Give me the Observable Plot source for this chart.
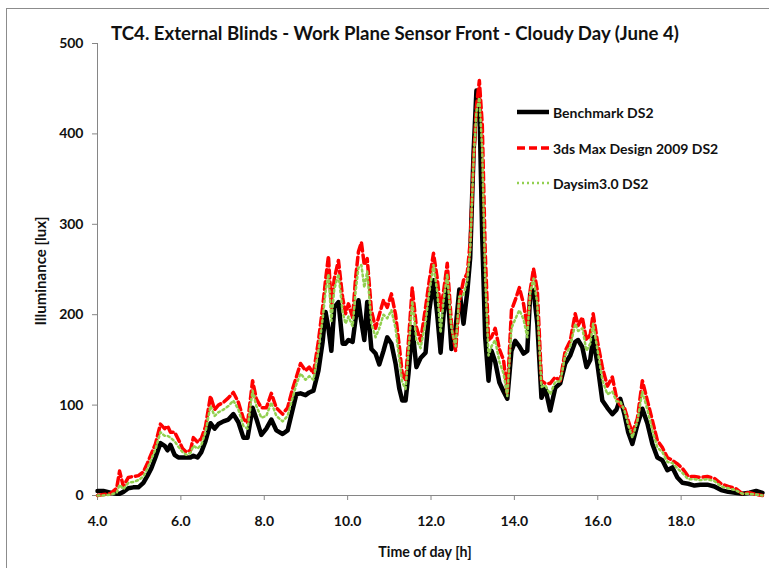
<!DOCTYPE html>
<html>
<head>
<meta charset="utf-8">
<script src="https://cdn.jsdelivr.net/npm/d3@7"></script>
<script src="https://cdn.jsdelivr.net/npm/@observablehq/plot@0.6"></script>
<style>
  html, body { margin: 0; padding: 0; background: #fff; }
  body { width: 769px; height: 568px; position: relative; overflow: hidden; font-family: Lato, "Open Sans", sans-serif; }
  #frame { position: absolute; left: 6px; top: 8px; width: 780px; height: 600px; border-left: 1px solid #8c8c8c; border-top: 1px solid #8c8c8c; }
  #chart { position: absolute; left: 0; top: 0; }
  .lbl { position: absolute; font-weight: bold; color: #111; white-space: nowrap; }
  #title { left: 395px; top: 33px; transform: translate(-50%, -50%); font-size: 18.6px; }
  #ylabel { left: 40px; top: 271px; transform: translate(-50%, -50%) rotate(-90deg); font-size: 15px; }
  #xlabel { left: 425px; top: 551px; transform: translate(-50%, -50%); font-size: 14.2px; }
  .leg { position: absolute; left: 515px; width: 250px; height: 20px; display: flex; align-items: center; font-weight: bold; font-size: 14px; color: #111; white-space: nowrap; }
  .leg svg { margin-right: 2px; }
</style>
</head>
<body>
<div id="frame"></div>
<div id="chart"></div>
<div class="lbl" id="title">TC4. External Blinds - Work Plane Sensor Front - Cloudy Day (June 4)</div>
<div class="lbl" id="ylabel">Illuminance [lux]</div>
<div class="lbl" id="xlabel">Time of day [h]</div>
<div id="legend"></div>
<script>
// Time of day [h]
const times = [
  4.00, 4.14, 4.31, 4.46, 4.53, 4.62, 4.74, 4.86, 4.98, 5.10,
  5.20, 5.29, 5.39, 5.51, 5.61, 5.68, 5.75, 5.85, 5.94, 6.04,
  6.13, 6.23, 6.30, 6.40, 6.49, 6.59, 6.71, 6.81, 6.90, 7.02,
  7.14, 7.26, 7.38, 7.50, 7.60, 7.72, 7.81, 7.93, 8.05, 8.17,
  8.29, 8.44, 8.56, 8.68, 8.77, 8.87, 8.99, 9.08, 9.18, 9.30,
  9.40, 9.47, 9.54, 9.61, 9.68, 9.78, 9.88, 9.95, 10.02, 10.12,
  10.19, 10.26, 10.33, 10.40, 10.47, 10.57, 10.67, 10.76, 10.86, 10.95,
  11.05, 11.15, 11.24, 11.31, 11.39, 11.46, 11.55, 11.65, 11.75, 11.87,
  11.96, 12.06, 12.15, 12.23, 12.30, 12.39, 12.49, 12.59, 12.68, 12.78,
  12.87, 12.94, 13.02, 13.09, 13.16, 13.23, 13.30, 13.38, 13.45, 13.54,
  13.64, 13.74, 13.83, 13.93, 14.02, 14.12, 14.22, 14.31, 14.38, 14.46,
  14.55, 14.65, 14.74, 14.86, 14.98, 15.10, 15.22, 15.34, 15.46, 15.53,
  15.63, 15.73, 15.82, 15.89, 15.99, 16.11, 16.23, 16.35, 16.45, 16.54,
  16.64, 16.73, 16.83, 16.95, 17.07, 17.19, 17.31, 17.43, 17.55, 17.67,
  17.79, 17.91, 18.03, 18.17, 18.32, 18.46, 18.63, 18.80, 18.96, 19.13,
  19.30, 19.47, 19.64, 19.80, 19.95
];
// Benchmark DS2 [lux]
const benchmark = [
  5, 5, 3, 2, 2, 4, 8, 9, 9, 14,
  22, 30, 42, 58, 55, 50, 56, 45, 42, 42,
  42, 42, 44, 42, 48, 60, 80, 74, 79, 82,
  84, 90, 81, 64, 64, 97, 85, 67, 74, 84,
  72, 68, 72, 95, 112, 113, 111, 114, 116, 138,
  170, 203, 185, 160, 208, 214, 168, 168, 172, 170,
  195, 216, 192, 172, 214, 162, 157, 145, 160, 175,
  168, 146, 118, 105, 105, 135, 186, 142, 152, 158,
  205, 238, 200, 158, 200, 232, 162, 185, 228, 190,
  225, 263, 378, 448, 435, 285, 175, 127, 160, 148,
  125, 115, 107, 160, 171, 165, 157, 160, 223, 227,
  190, 108, 119, 94, 119, 124, 146, 155, 170, 172,
  164, 142, 150, 175, 146, 105, 97, 90, 95, 107,
  90, 70, 57, 78, 96, 80, 57, 42, 39, 28,
  31, 20, 14, 13, 11, 12, 12, 10, 6, 4,
  3, 2, 3, 5, 3
];
// 3ds Max Design 2009 DS2 [lux]
const max3ds = [
  0, 1, 2, 8, 27, 10, 20, 21, 22, 26,
  36, 46, 57, 79, 74, 77, 70, 70, 62, 52,
  48, 50, 64, 59, 63, 76, 110, 95, 100, 103,
  108, 114, 103, 85, 80, 127, 107, 97, 97, 113,
  97, 90, 97, 118, 131, 146, 138, 142, 135, 171,
  208, 238, 265, 208, 240, 260, 219, 201, 212, 197,
  240, 270, 280, 255, 262, 205, 185, 200, 216, 208,
  223, 200, 165, 135, 127, 171, 230, 186, 171, 208,
  238, 268, 240, 205, 225, 257, 190, 160, 215, 238,
  246, 280, 370, 430, 459, 410, 270, 172, 175, 185,
  162, 150, 113, 205, 216, 230, 212, 186, 227, 251,
  227, 127, 124, 124, 131, 127, 160, 171, 201, 188,
  197, 172, 178, 201, 171, 142, 121, 131, 108, 100,
  97, 83, 69, 85, 127, 105, 83, 61, 53, 42,
  39, 35, 30, 21, 21, 20, 21, 19, 13, 10,
  8, 2, 3, 1, 0
];
// Daysim3.0 DS2 [lux]
const daysim = [
  0, 0, 1, 3, 12, 7, 14, 15, 17, 21,
  30, 40, 51, 70, 66, 66, 64, 60, 54, 48,
  45, 47, 55, 52, 56, 70, 99, 88, 92, 95,
  99, 105, 95, 77, 74, 116, 99, 86, 88, 103,
  88, 82, 88, 108, 123, 135, 128, 132, 128, 160,
  195, 225, 245, 193, 228, 245, 203, 190, 198, 187,
  225, 252, 255, 230, 248, 190, 175, 185, 200, 196,
  205, 185, 150, 125, 118, 160, 215, 172, 163, 192,
  225, 255, 225, 180, 215, 245, 185, 165, 220, 222,
  238, 272, 370, 425, 440, 380, 240, 155, 165, 172,
  148, 135, 110, 185, 195, 205, 195, 175, 225, 240,
  212, 120, 122, 112, 126, 126, 155, 165, 190, 182,
  185, 160, 168, 190, 162, 128, 112, 115, 104, 104,
  94, 78, 64, 82, 115, 95, 72, 53, 48, 37,
  36, 30, 25, 18, 18, 17, 18, 16, 10, 8,
  6, 2, 2, 1, 0
];
const xTicks = [4, 6, 8, 10, 12, 14, 16, 18];
const yTicks = [0, 100, 200, 300, 400, 500];
const seriesNames = ["Benchmark DS2", "3ds Max Design 2009 DS2", "Daysim3.0 DS2"];

const rows = times.map((t, i) => ({t, b: benchmark[i], r: max3ds[i], g: daysim[i]}));

const axisColor = "#868686";
const chart = Plot.plot({
  width: 769,
  height: 568,
  marginLeft: 97,
  marginRight: 5,
  marginTop: 43,
  marginBottom: 73,
  style: {fontFamily: "Lato, 'Open Sans', sans-serif", fontSize: "14px", fontWeight: "bold", background: "transparent", overflow: "visible"},
  x: {domain: [4, 20]},
  y: {domain: [0, 500]},
  marks: [
    Plot.axisX({ticks: xTicks, tickFormat: d => d.toFixed(1), tickSize: 5, tickPadding: 16, stroke: axisColor, fill: "#111", label: null}),
    Plot.axisY({ticks: yTicks, tickSize: 5, tickPadding: 9, stroke: axisColor, fill: "#111", label: null}),
    Plot.ruleY([0], {stroke: axisColor, strokeWidth: 1}),
    Plot.ruleX([4], {stroke: axisColor, strokeWidth: 1}),
    Plot.line(rows, {x: "t", y: "b", stroke: "#000", strokeWidth: 4.5, strokeLinejoin: "round"}),
    Plot.line(rows, {x: "t", y: "r", stroke: "#ff0000", strokeWidth: 3.5, strokeDasharray: "8,4"}),
    Plot.line(rows, {x: "t", y: "g", stroke: "#92d050", strokeWidth: 2.5, strokeDasharray: "2,3"})
  ]
});
document.getElementById("chart").appendChild(chart);

// Legend
const legendStyles = [
  {stroke: "#000", width: 4.5, dash: null, top: 102},
  {stroke: "#ff0000", width: 3.5, dash: "8,4", top: 138},
  {stroke: "#92d050", width: 2.5, dash: "2,3", top: 173}
];
const legend = document.getElementById("legend");
seriesNames.forEach((name, i) => {
  const s = legendStyles[i];
  const div = document.createElement("div");
  div.className = "leg";
  div.style.top = s.top + "px";
  div.innerHTML = `<svg width="36" height="20"><line x1="2" x2="34" y1="10" y2="10" stroke="${s.stroke}" stroke-width="${s.width}" ${s.dash ? `stroke-dasharray="${s.dash}"` : ""}/></svg><span>${name}</span>`;
  legend.appendChild(div);
});
</script>
</body>
</html>
